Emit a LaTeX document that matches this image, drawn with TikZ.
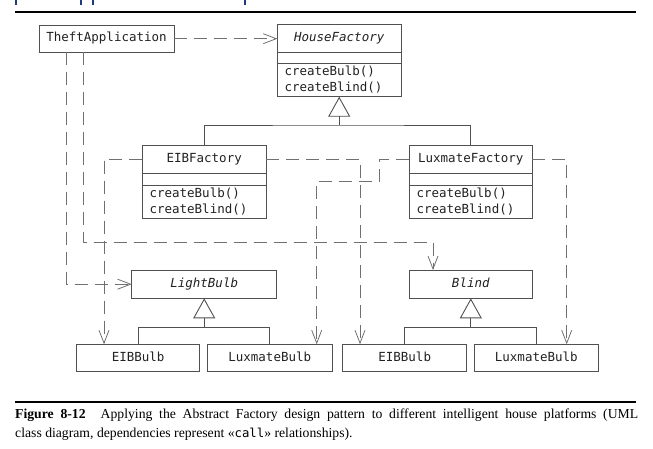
\documentclass[tikz,border=0pt]{standalone}
\usepackage{fontspec}
\setmainfont{Liberation Serif}
\setmonofont{DejaVu Sans Mono}
\usetikzlibrary{arrows.meta,calc}
\definecolor{ln}{HTML}{505050}
\definecolor{dl}{HTML}{707070}
\definecolor{tx}{HTML}{222222}
\definecolor{hb}{HTML}{1F3C7A}
\tikzset{
 cls/.style={draw=ln, line width=0.9pt, inner sep=0pt, outer sep=0pt, fill=white,
   font=\fontsize{12.5}{14}\selectfont\ttfamily, text=tx, text height=9.2pt, text depth=2.8pt},
 lbl/.style={inner sep=0pt, font=\fontsize{12.5}{14}\selectfont\ttfamily, text=tx, text height=9.2pt, text depth=2.8pt},
 ilbl/.style={lbl, font=\fontsize{12.5}{14}\selectfont\ttfamily\itshape},
 sepline/.style={draw=ln, line width=0.9pt},
 dep/.style={draw=dl, line width=0.8pt, dash pattern=on 13pt off 7pt, -{Straight Barb[length=13pt,width=10pt]}},
 gen/.style={draw=ln, line width=0.9pt},
 genarrow/.style={gen, -{Triangle[open, length=20pt, width=22pt]}},
 captxt/.style={anchor=base west, inner sep=0pt, font=\fontsize{13.7}{16}\selectfont, text=black},
}
\begin{document}
\begin{tikzpicture}[x=1pt,y=-1pt]
\useasboundingbox (0,0) rectangle (653,449);
% cut-off heading fragments
\foreach \xx in {16,81,93,245} \fill[hb] (\xx-1,0) rectangle (\xx+1.2,5);
% rules
\fill[black] (15,10.6) rectangle (636,12.8);
\fill[black] (15,400.5) rectangle (636,402.7);

% TheftApplication
\node[cls, minimum width=135pt, minimum height=27.3pt] (ta) at (106.5,38.7) {TheftApplication};

% HouseFactory
\node[cls, minimum width=123.7pt, minimum height=72.4pt] (hf) at (339.2,60.5) {};
\node[ilbl] (hft) at ($(hf.north)+(0,14)$) {HouseFactory};
\draw[sepline] ($(hf.north west)+(0,28)$) -- ($(hf.north east)+(0,28)$);
\draw[sepline] ($(hf.north west)+(0,39)$) -- ($(hf.north east)+(0,39)$);
\node[lbl, anchor=west] (hfm1) at ($(hf.north west)+(7,48)$) {createBulb()};
\node[lbl, anchor=west] (hfm2) at ($(hf.north west)+(7,64)$) {createBlind()};

% EIBFactory
\node[cls, minimum width=123.7pt, minimum height=73.3pt] (ef) at (204.2,181.7) {};
\node[lbl] (eft) at ($(ef.north)+(0,14)$) {EIBFactory};
\draw[sepline] ($(ef.north west)+(0,28.3)$) -- ($(ef.north east)+(0,28.3)$);
\draw[sepline] ($(ef.north west)+(0,40)$) -- ($(ef.north east)+(0,40)$);
\node[lbl, anchor=west] (efm1) at ($(ef.north west)+(7,49)$) {createBulb()};
\node[lbl, anchor=west] (efm2) at ($(ef.north west)+(7,65)$) {createBlind()};

% LuxmateFactory
\node[cls, minimum width=123pt, minimum height=73.3pt] (lf) at (470.8,181.7) {};
\node[lbl] (lft) at ($(lf.north)+(0,14)$) {LuxmateFactory};
\draw[sepline] ($(lf.north west)+(0,28.3)$) -- ($(lf.north east)+(0,28.3)$);
\draw[sepline] ($(lf.north west)+(0,40)$) -- ($(lf.north east)+(0,40)$);
\node[lbl, anchor=west] (lfm1) at ($(lf.north west)+(7,49)$) {createBulb()};
\node[lbl, anchor=west] (lfm2) at ($(lf.north west)+(7,65)$) {createBlind()};

% LightBulb, Blind
\node[cls, minimum width=145pt, minimum height=28.3pt, font=\fontsize{12.5}{14}\selectfont\ttfamily\itshape] (lb) at (204.2,284.2) {LightBulb};
\node[cls, minimum width=123pt, minimum height=28.3pt, font=\fontsize{12.5}{14}\selectfont\ttfamily\itshape] (bl) at (470.8,284.2) {Blind};

% Bulbs
\node[cls, minimum width=122.8pt, minimum height=27.4pt] (eb1) at (138.1,358) {EIBBulb};
\node[cls, minimum width=124.5pt, minimum height=27.4pt] (lub1) at (269.75,358) {LuxmateBulb};
\node[cls, minimum width=124pt, minimum height=27.4pt] (eb2) at (404.7,358) {EIBBulb};
\node[cls, minimum width=124pt, minimum height=27.4pt] (lub2) at (536.3,358) {LuxmateBulb};

% generalizations
\coordinate (hfj) at ($(hf.south)+(0,28.3)$);
\draw[gen] (ef.north) |- (hfj) -| (lf.north);
\draw[genarrow] (hfj) -- (hf.south);
\coordinate (lbj) at ($(lb.south)+(0,29)$);
\draw[gen] (eb1.north) |- (lbj) -| (lub1.north);
\draw[genarrow] (lbj) -- (lb.south);
\coordinate (blj) at ($(bl.south)+(0,29)$);
\draw[gen] (eb2.north) |- (blj) -| (lub2.north);
\draw[genarrow] (blj) -- (bl.south);

% dependencies
\draw[dep] (ta.east) -- (ta.east -| hf.west);
\coordinate (taA) at ($(ta.south west)+(27.5,0)$);
\coordinate (taB) at ($(ta.south west)+(44.3,0)$);
\coordinate (tbj) at (433,242);
\draw[dep] (taA) |- (lb.west);
\draw[dep] (taB) |- (tbj) -- (tbj |- bl.north);
\draw[dep] (ef.west |- eft) -| ($(eb1.north west)+(27.3,0)$);
\draw[dep] (ef.east |- eft) -| ($(eb2.north west)+(17.3,0)$);
\coordinate (lfj) at (379.3,181.7);
\draw[dep] (lf.west |- lft) -| (lfj) -| ($(lub1.north west)+(109.2,0)$);
\draw[dep] (lf.east |- lft) -| ($(lub2.north west)+(92.4,0)$);

% caption
\node[captxt] (cap1) at (15,418.5) {\makebox[623pt][s]{\textbf{Figure 8-12}\hspace{1.1em}Applying the Abstract Factory design pattern to different intelligent house platforms (UML}};
\node[captxt] (cap2) at (15,437) {class diagram, dependencies represent «{\fontsize{12.3}{14}\selectfont\ttfamily call}» relationships).};
\end{tikzpicture}
\end{document}
